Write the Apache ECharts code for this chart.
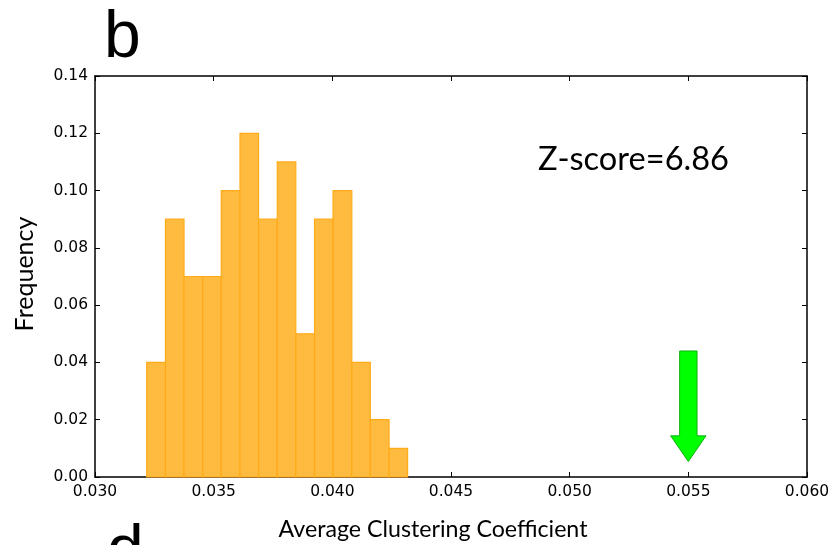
<!DOCTYPE html>
<html>
<head>
<meta charset="utf-8">
<script src="https://cdn.jsdelivr.net/npm/echarts@6/dist/echarts.min.js"></script>
<style>
  html, body { margin: 0; padding: 0; background: #fff; }
  #chart { width: 836px; height: 545px; }
</style>
</head>
<body>
<div id="chart"></div>
<script>
// Histogram of the average clustering coefficient over randomised networks
const binEdges = [0.03218, 0.03297, 0.03375, 0.03454, 0.03532, 0.03611, 0.03689, 0.03768,
                  0.03846, 0.03925, 0.04003, 0.04082, 0.04160, 0.04239, 0.04317];
const frequency = [0.04, 0.09, 0.07, 0.07, 0.10, 0.12, 0.09, 0.11, 0.05, 0.09, 0.10, 0.04, 0.02, 0.01];
const xTicks = ['0.030', '0.035', '0.040', '0.045', '0.050', '0.055', '0.060'];
const yTicks = ['0.00', '0.02', '0.04', '0.06', '0.08', '0.10', '0.12', '0.14'];
// Observed network value, marked by the arrow
const observedValue = 0.055;
const arrowTail = 0.044;
const arrowTip = 0.0054;
const zScoreText = 'Z-score=6.86';

const bins = frequency.map((f, i) => [binEdges[i], binEdges[i + 1], f]);

const tickFont = { fontFamily: 'DejaVu Sans', fontSize: 15.5, color: '#000' };
const frameLine = { show: true, onZero: false, lineStyle: { color: '#000', width: 1.5 } };
const innerTick = { show: true, inside: true, length: 5, lineStyle: { color: '#000', width: 1 } };

const chart = echarts.init(document.getElementById('chart'), null, { renderer: 'canvas' });

chart.setOption({
  animation: false,
  grid: { left: 95, right: 29, top: 76, bottom: 68 },
  xAxis: [
    {
      type: 'value', min: 0.030, max: 0.060, interval: 0.005,
      axisLine: frameLine, axisTick: innerTick, splitLine: { show: false },
      axisLabel: Object.assign({ margin: 7, formatter: (v) => xTicks[Math.round((v - 0.030) / 0.005)] }, tickFont)
    },
    {
      type: 'value', position: 'top', min: 0.030, max: 0.060, interval: 0.005,
      axisLine: frameLine, axisTick: innerTick, splitLine: { show: false }, axisLabel: { show: false }
    }
  ],
  yAxis: [
    {
      type: 'value', min: 0, max: 0.14, interval: 0.02,
      axisLine: frameLine, axisTick: innerTick, splitLine: { show: false },
      axisLabel: Object.assign({ margin: 7, formatter: (v) => yTicks[Math.round(v / 0.02)] }, tickFont)
    },
    {
      type: 'value', position: 'right', min: 0, max: 0.14, interval: 0.02,
      axisLine: frameLine, axisTick: innerTick, splitLine: { show: false }, axisLabel: { show: false }
    }
  ],
  series: [
    {
      type: 'custom',
      data: bins,
      renderItem: function (params, api) {
        const p0 = api.coord([api.value(0), 0]);
        const p1 = api.coord([api.value(1), api.value(2)]);
        return {
          type: 'rect',
          shape: { x: p0[0], y: p1[1], width: p1[0] - p0[0], height: p0[1] - p1[1] },
          style: { fill: '#ffba40', stroke: '#ffab18', lineWidth: 1.2 }
        };
      },
      z: 2
    },
    {
      type: 'custom',
      data: [[observedValue, arrowTail, arrowTip]],
      renderItem: function (params, api) {
        const top = api.coord([api.value(0), api.value(1)]);
        const tip = api.coord([api.value(0), api.value(2)]);
        const cx = tip[0];
        const shaftHalf = 8.7, headHalf = 17.7, headLen = 25.7;
        const neck = tip[1] - headLen;
        return {
          type: 'polygon',
          shape: {
            points: [
              [cx - shaftHalf, top[1]], [cx + shaftHalf, top[1]],
              [cx + shaftHalf, neck], [cx + headHalf, neck],
              [cx, tip[1]],
              [cx - headHalf, neck], [cx - shaftHalf, neck]
            ]
          },
          style: { fill: '#00ff00', stroke: '#10b010', lineWidth: 1 }
        };
      },
      z: 3
    }
  ],
  graphic: [
    { type: 'text', left: 104, top: 6,
      style: { text: 'b', font: '66px "Liberation Sans"', fill: '#000' } },
    { type: 'text', left: 107, top: 520,
      style: { text: 'd', font: '66px "Liberation Sans"', fill: '#000' } },
    { type: 'text', x: 633.5, y: 176,
      style: { text: zScoreText, font: '32.6px Lato', fill: '#000', textAlign: 'center', textVerticalAlign: 'bottom' } },
    { type: 'text', x: 433, y: 530,
      style: { text: 'Average Clustering Coefficient', font: '23.2px Lato', fill: '#000', textAlign: 'center', textVerticalAlign: 'middle' } },
    { type: 'text', x: 25, y: 274, rotation: Math.PI / 2,
      style: { text: 'Frequency', font: '25px Lato', fill: '#000', textAlign: 'center', textVerticalAlign: 'middle' } }
  ]
});
</script>
</body>
</html>
